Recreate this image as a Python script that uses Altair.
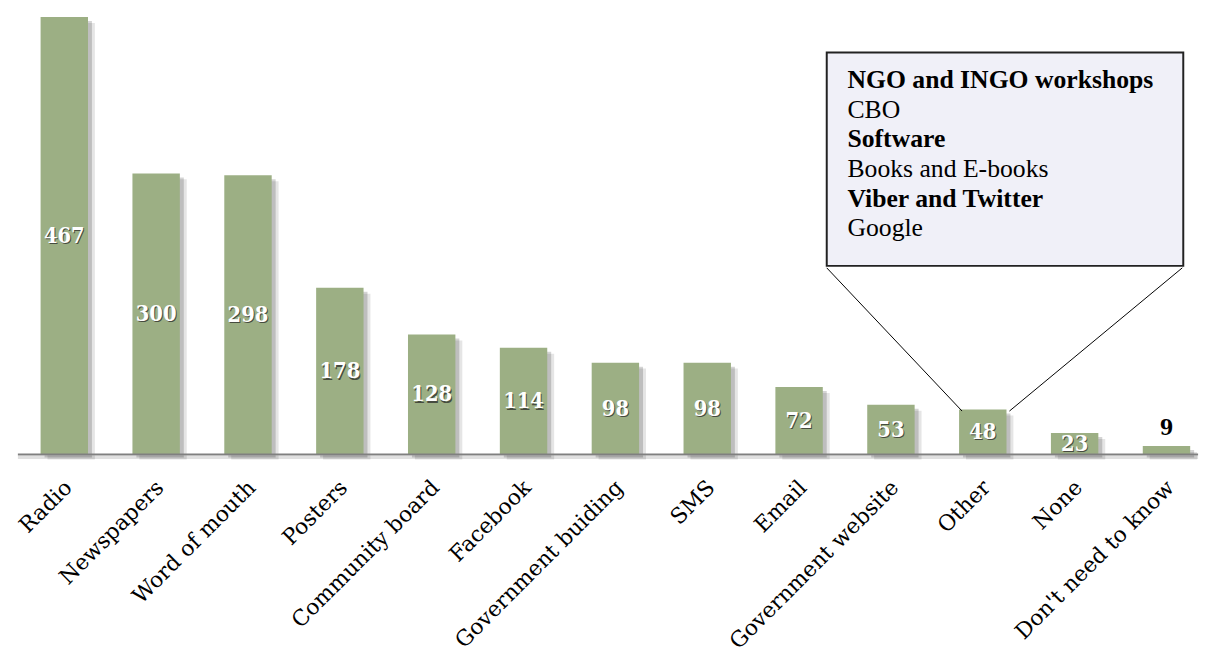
import altair as alt
import pandas as pd

# ---- data ----
categories = ["Radio", "Newspapers", "Word of mouth", "Posters", "Community board",
              "Facebook", "Government buiding", "SMS", "Email", "Government website",
              "Other", "None", "Don't need to know"]
counts = [467, 300, 298, 178, 128, 114, 98, 98, 72, 53, 48, 23, 9]

callout_lines = ["NGO and INGO workshops", "CBO", "Software",
                 "Books and E-books", "Viber and Twitter", "Google"]
callout_bold = [True, False, True, False, True, False]

# ---- layout constants (pixels of the page) ----
STEP = 93.0          # px between bar centres
X0 = 65.0            # page x of first bar centre
ZERO = 456.0         # page y of the baseline
UPX = 467.0 / 443.0  # data units per pixel (vertical)
HALF = 24.0 / STEP   # half bar width in index units
W, H = 1195, 645


def ux(px):   # horizontal pixels -> index units
    return px / STEP


def uy(px):   # vertical pixels -> value units
    return px * UPX


def page_x(px):
    return (px - X0) / STEP


def page_y(py):
    return (ZERO - py) * UPX


xs = alt.Scale(domain=[page_x(13), page_x(13 + W)], nice=False, zero=False)
ys = alt.Scale(domain=[page_y(13 + H), page_y(13)], nice=False, zero=False)

idx = list(range(len(categories)))
df = pd.DataFrame({"cat": categories, "n": counts, "i": idx})
df["x0"] = df["i"] - HALF
df["x1"] = df["i"] + HALF
df["zero"] = 0.0
df["mid"] = df["n"] / 2.0
df["lbl"] = df["n"].astype(str)
df["lx"] = df["i"] + ux(4)
df["ly"] = -uy(30)
for k, (dx, dt, db) in enumerate([(7, 6, 5), (4, 4, 3)]):
    df[f"s{k}x0"] = df["x0"] + ux(dx)
    df[f"s{k}x1"] = df["x1"] + ux(dx)
    df[f"s{k}y"] = df["n"] - uy(dt)
    df[f"s{k}y2"] = -uy(db)

big = df[df["n"] >= 15]
small = df[df["n"] < 15]

BAR = "#9CAF84"


def X(f):
    return alt.X(f, scale=xs, axis=None, title=None)


def Y(f):
    return alt.Y(f, scale=ys, axis=None, title=None)


layers = []
for k, op in [(0, 0.10), (1, 0.17)]:
    layers.append(alt.Chart(df).mark_rect(color="#000", opacity=op).encode(
        x=X(f"s{k}x0:Q"), x2=alt.X2(f"s{k}x1"),
        y=Y(f"s{k}y:Q"), y2=alt.Y2(f"s{k}y2")))

layers.append(alt.Chart(df).mark_rect(color=BAR).encode(
    x=X("x0:Q"), x2=alt.X2("x1"), y=Y("n:Q"), y2=alt.Y2("zero")))

# baseline (axis line) with a faint shadow
base_df = pd.DataFrame({"a": [page_x(18)], "b": [page_x(1213)],
                        "y": [0.0], "ys": [-uy(3)]})
layers.append(alt.Chart(base_df).mark_rule(color="#000", opacity=0.12, strokeWidth=3).encode(
    x=X("a:Q"), x2=alt.X2("b"), y=Y("ys:Q")))
layers.append(alt.Chart(base_df).mark_rule(color="#808080", strokeWidth=2).encode(
    x=X("a:Q"), x2=alt.X2("b"), y=Y("y:Q")))

# value labels
layers.append(alt.Chart(big).mark_text(
    font="DejaVu Serif Condensed", fontWeight="bold", fontSize=22, color="#222",
    opacity=0.7, dx=1, dy=1.5, baseline="middle").encode(
    x=X("i:Q"), y=Y("mid:Q"), text="lbl:N"))
layers.append(alt.Chart(big).mark_text(
    font="DejaVu Serif Condensed", fontWeight="bold", fontSize=22, color="#fff",
    baseline="middle").encode(x=X("i:Q"), y=Y("mid:Q"), text="lbl:N"))
layers.append(alt.Chart(small).mark_text(
    font="DejaVu Serif Condensed", fontWeight="bold", fontSize=22, color="#000",
    baseline="bottom", dy=-6).encode(x=X("i:Q"), y=Y("n:Q"), text="lbl:N"))

# category labels (rotated)
layers.append(alt.Chart(df).mark_text(
    font="DejaVu Serif", fontSize=22, color="#000", angle=315,
    align="right", baseline="middle").encode(
    x=X("lx:Q"), y=Y("ly:Q"), text="cat:N"))

# callout box, pointer lines and text
box_df = pd.DataFrame({"a": [page_x(837)], "b": [page_x(1198)],
                       "t": [page_y(49)], "u": [page_y(265)]})
ptr_df = pd.DataFrame({"ax": [page_x(837), page_x(1197)],
                       "ay": [page_y(267), page_y(267)],
                       "bx": [page_x(974), page_x(1022)],
                       "by": [page_y(412), page_y(412)]})
txt_df = pd.DataFrame({"line": callout_lines, "bold": callout_bold})
txt_df["x"] = page_x(858)
txt_df["y"] = [page_y(85 + 30 * r) for r in range(len(callout_lines))]

layers.append(alt.Chart(ptr_df).mark_rule(color="#000", strokeWidth=1).encode(
    x=X("ax:Q"), y=Y("ay:Q"), x2=alt.X2("bx"), y2=alt.Y2("by")))
layers.append(alt.Chart(box_df).mark_rect(fill="#F0F0F8", stroke="#222",
                                          strokeWidth=2).encode(
    x=X("a:Q"), x2=alt.X2("b"), y=Y("t:Q"), y2=alt.Y2("u")))
layers.append(alt.Chart(txt_df[txt_df["bold"]]).mark_text(
    font="Liberation Serif", fontWeight="bold", fontSize=26, align="left",
    baseline="alphabetic", color="#000").encode(x=X("x:Q"), y=Y("y:Q"), text="line:N"))
layers.append(alt.Chart(txt_df[~txt_df["bold"]]).mark_text(
    font="Liberation Serif", fontSize=26, align="left",
    baseline="alphabetic", color="#000").encode(x=X("x:Q"), y=Y("y:Q"), text="line:N"))

chart = alt.layer(*layers).properties(width=W, height=H).configure_view(strokeWidth=0)

chart.save("out.html", embed_options={"renderer": "svg", "actions": False})
